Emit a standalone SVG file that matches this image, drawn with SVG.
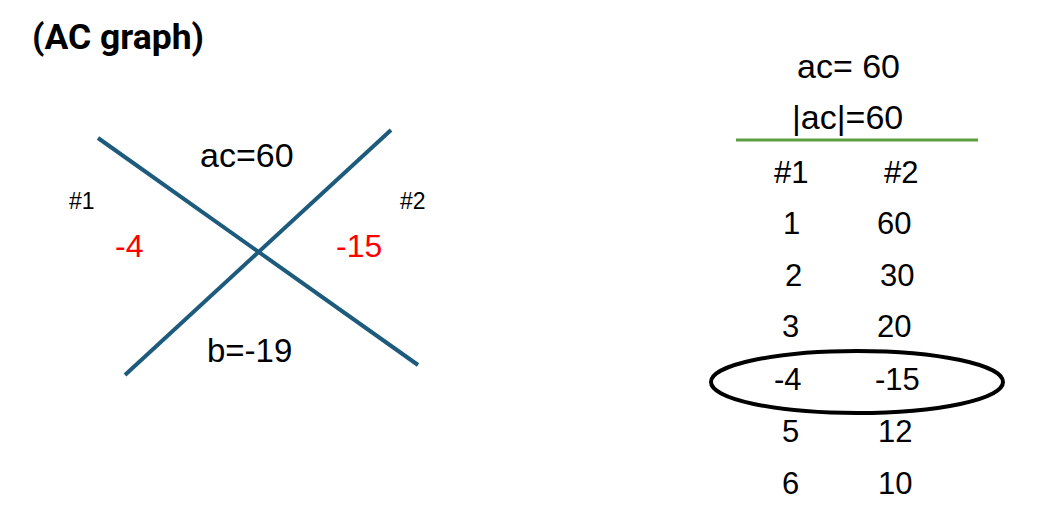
<svg xmlns="http://www.w3.org/2000/svg" width="1057" height="527" viewBox="0 0 1057 527">
<style>
.t{font-family:"Liberation Sans",Arial,sans-serif;font-size:31px;fill:#000}
.w{font-size:34px}
.s{font-family:"Liberation Sans",Arial,sans-serif;font-size:23px;fill:#000}
.r{fill:#ff0000;font-size:32px}
.ttl{font-family:Roboto,"Liberation Sans",sans-serif;font-weight:700;font-size:35.5px;fill:#000}
.x{stroke:#1c5b7c;stroke-width:4;fill:none}
</style>
<rect width="1057" height="527" fill="#fff"/>
<text class="ttl" x="32" y="49">(AC graph)</text>
<g id="connectors">
<line class="x" x1="98" y1="138" x2="418" y2="365"/>
<line class="x" x1="125" y1="375" x2="391" y2="130"/>
</g>
<g id="ac-graph-labels">
<text class="t w" x="200" y="167">ac=60</text>
<text class="t" x="207" y="362" style="font-size:33px">b=-19</text>
<text class="s" x="69" y="209">#1</text>
<text class="s" x="400" y="209">#2</text>
<text class="t r" x="115" y="257">-4</text>
<text class="t r" x="336" y="257">-15</text>
</g>
<g id="table">
<text class="t w" x="797" y="78">ac= 60</text>
<text class="t w" x="792" y="129">|ac|=60</text>
<line x1="736" y1="140" x2="978" y2="140" stroke="#5b9e41" stroke-width="3"/>
<text class="t" x="774" y="183">#1</text><text class="t" x="884" y="183">#2</text>
<text class="t" x="783" y="234">1</text><text class="t" x="877" y="234">60</text>
<text class="t" x="785" y="286">2</text><text class="t" x="880" y="286">30</text>
<text class="t" x="782" y="337">3</text><text class="t" x="877" y="337">20</text>
<text class="t" x="774" y="390">-4</text><text class="t" x="875" y="390">-15</text>
<text class="t" x="782" y="442">5</text><text class="t" x="878" y="442">12</text>
<text class="t" x="782" y="494">6</text><text class="t" x="878" y="494">10</text>
<ellipse cx="857" cy="382" rx="146" ry="31" fill="none" stroke="#000" stroke-width="4"/>
</g>
</svg>
